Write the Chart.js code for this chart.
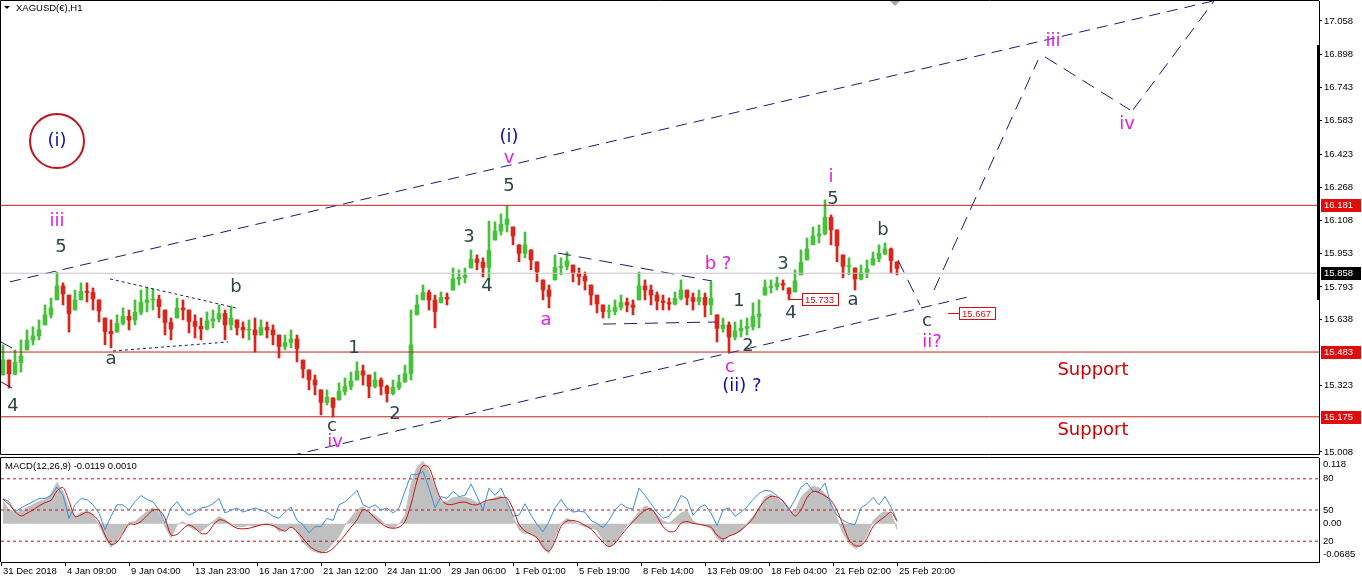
<!DOCTYPE html>
<html><head><meta charset="utf-8">
<script src="https://cdn.jsdelivr.net/npm/chart.js@4.4.1/dist/chart.umd.min.js"></script>
<style>
html,body{margin:0;padding:0;background:#fff;overflow:hidden}
#wrap{position:relative;width:1362px;height:582px;background:#fff}
#c1{position:absolute;left:0;top:0}
#c2{position:absolute;left:0;top:456px}
</style></head><body>
<div id="wrap"><canvas id="c1" width="1362" height="456"></canvas><canvas id="c2" width="1362" height="126"></canvas></div>
<script>
// ---------------- DATA ----------------
const symbolTitle = 'XAGUSD(€),H1';
const macdTitle = 'MACD(12,26,9) -0.0119 0.0010';
const timeLabels = ['31 Dec 2018','4 Jan 09:00','9 Jan 04:00','13 Jan 23:00','16 Jan 17:00','21 Jan 12:00','24 Jan 11:00','29 Jan 06:00','1 Feb 01:00','5 Feb 19:00','8 Feb 14:00','13 Feb 09:00','18 Feb 04:00','21 Feb 02:00','25 Feb 20:00'];
const BARS_PER_LABEL = 64;
const priceTicks = [17.058,16.898,16.743,16.583,16.423,16.268,16.108,15.953,15.793,15.638,15.323,15.008];
const redLevels = [16.181, 15.483, 15.175];
const lastPrice = 15.858;

// sampled H1 price ranges (one sample every 6 bars, starting at bar 3)
const FIRST_BAR = 3, BAR_STEP = 6;
const priceHigh = [
15.517,15.445,15.493,15.541,15.588,15.603,15.636,15.707,15.740,15.864,
15.812,15.754,15.778,15.812,15.812,15.788,15.731,15.645,15.636,15.660,
15.693,15.683,15.731,15.778,15.788,15.783,15.754,15.683,15.645,15.740,
15.731,15.683,15.660,15.645,15.674,15.683,15.707,15.683,15.702,15.636,
15.626,15.636,15.645,15.636,15.626,15.612,15.564,15.564,15.588,15.564,
15.445,15.398,15.374,15.303,15.303,15.265,15.336,15.360,15.388,15.436,
15.421,15.374,15.388,15.360,15.326,15.350,15.374,15.421,15.683,15.754,
15.802,15.778,15.754,15.769,15.764,15.883,15.874,15.883,15.969,15.945,
15.931,16.106,16.102,16.140,16.178,16.078,15.993,16.054,15.969,15.912,
15.826,15.802,15.945,15.931,15.959,15.897,15.883,15.864,15.802,15.754,
15.707,15.707,15.731,15.754,15.740,15.731,15.864,15.826,15.802,15.769,
15.754,15.740,15.769,15.826,15.778,15.764,15.778,15.764,15.817,15.660,
15.645,15.626,15.626,15.636,15.645,15.717,15.731,15.826,15.826,15.840,
15.826,15.788,15.874,15.969,16.026,16.078,16.088,16.207,16.135,16.064,
15.945,15.931,15.883,15.897,15.921,15.959,15.993,16.002,15.978,15.912];
const priceLow = [
15.374,15.312,15.374,15.388,15.493,15.517,15.541,15.612,15.645,15.731,
15.707,15.578,15.683,15.731,15.721,15.683,15.626,15.517,15.503,15.578,
15.612,15.588,15.612,15.660,15.674,15.683,15.645,15.564,15.541,15.645,
15.636,15.574,15.550,15.541,15.588,15.598,15.626,15.541,15.588,15.564,
15.550,15.541,15.483,15.564,15.550,15.517,15.455,15.493,15.503,15.436,
15.360,15.303,15.279,15.184,15.231,15.174,15.255,15.279,15.303,15.350,
15.326,15.265,15.312,15.279,15.245,15.279,15.303,15.340,15.350,15.660,
15.731,15.683,15.598,15.717,15.707,15.778,15.802,15.812,15.883,15.874,
15.840,15.826,16.016,16.040,16.054,15.993,15.912,15.931,15.874,15.817,
15.731,15.693,15.826,15.850,15.874,15.817,15.802,15.778,15.707,15.669,
15.645,15.645,15.660,15.683,15.674,15.660,15.731,15.731,15.707,15.683,
15.683,15.683,15.707,15.731,15.707,15.683,15.707,15.650,15.660,15.531,
15.578,15.483,15.541,15.555,15.564,15.588,15.598,15.754,15.764,15.778,
15.778,15.731,15.769,15.850,15.921,15.993,16.002,16.040,15.993,15.912,
15.836,15.850,15.778,15.826,15.836,15.897,15.912,15.945,15.859,15.850];

const macdMain = [
0.040,0.025,0.020,0.022,0.029,0.034,0.040,0.043,0.053,0.074,
0.058,0.029,0.013,0.020,0.022,0.015,-0.002,-0.025,-0.042,-0.029,
-0.014,0.002,0.004,0.013,0.022,0.029,0.020,-0.005,-0.025,-0.002,
0.004,-0.005,-0.011,-0.014,-0.005,0.004,0.013,0.007,0.000,-0.005,
-0.005,-0.002,-0.005,-0.002,0.000,-0.002,-0.014,-0.011,-0.005,-0.014,
-0.033,-0.044,-0.050,-0.053,-0.047,-0.035,-0.023,-0.002,0.011,0.025,
0.031,0.020,0.015,0.007,-0.005,-0.008,0.000,0.015,0.071,0.101,
0.112,0.094,0.065,0.038,0.040,0.047,0.048,0.047,0.044,0.038,
0.036,0.041,0.047,0.050,0.041,0.013,-0.011,-0.017,-0.017,-0.026,
-0.044,-0.053,-0.023,0.001,0.010,0.004,-0.001,-0.005,-0.008,-0.011,
-0.029,-0.041,-0.035,-0.017,-0.003,0.007,0.022,0.032,0.028,0.016,
0.005,0.001,0.010,0.019,0.023,0.005,-0.001,-0.003,-0.009,-0.026,
-0.033,-0.021,-0.018,-0.013,0.001,0.013,0.028,0.048,0.053,0.046,
0.036,0.021,0.023,0.047,0.059,0.068,0.064,0.054,0.038,0.010,
-0.017,-0.035,-0.044,-0.039,-0.020,0.005,0.016,0.022,0.019,-0.010];
const macdSignal = [
0.044,0.035,0.022,0.014,0.019,0.025,0.032,0.038,0.042,0.059,
0.065,0.041,0.013,0.016,0.021,0.016,0.004,-0.020,-0.037,-0.033,
-0.017,-0.001,-0.001,0.004,0.015,0.024,0.025,0.010,-0.020,-0.019,
-0.009,-0.002,-0.008,-0.017,-0.017,-0.003,0.007,0.005,-0.002,-0.008,
-0.009,-0.008,-0.005,-0.002,-0.001,-0.003,-0.009,-0.013,-0.006,-0.014,
-0.026,-0.039,-0.047,-0.051,-0.051,-0.044,-0.033,-0.020,-0.006,0.007,
0.025,0.021,0.010,0.001,-0.006,-0.008,-0.006,0.004,0.035,0.077,
0.104,0.101,0.071,0.044,0.035,0.035,0.038,0.039,0.035,0.034,
0.039,0.043,0.044,0.047,0.046,0.027,-0.001,-0.013,-0.019,-0.025,
-0.041,-0.049,-0.031,-0.005,0.005,0.006,0.003,-0.003,-0.009,-0.021,
-0.033,-0.041,-0.035,-0.021,-0.008,0.004,0.015,0.024,0.027,0.013,
-0.005,-0.014,-0.013,0.001,0.004,0.001,-0.001,-0.003,-0.006,-0.020,
-0.027,-0.022,-0.018,-0.011,-0.002,0.010,0.028,0.042,0.049,0.048,
0.041,0.027,0.014,0.025,0.047,0.058,0.056,0.050,0.042,0.024,
-0.002,-0.029,-0.039,-0.039,-0.026,-0.005,0.005,0.013,0.021,0.004];
const oscLine = [
61,58,48,52,55,58,61,61,64,72,
64,42,55,61,60,55,47,31,44,55,
55,50,58,64,60,58,50,37,52,58,
50,45,48,52,53,56,61,47,50,52,
48,50,52,50,48,44,42,48,53,40,
36,28,34,34,42,40,55,58,63,69,
55,52,55,50,52,47,52,68,84,84,
87,71,52,63,61,68,63,64,75,63,
50,71,64,71,58,44,45,56,45,36,
29,39,52,60,52,48,49,48,40,37,
33,40,50,56,52,51,71,64,56,48,
42,44,52,64,61,45,52,55,47,35,
50,52,44,48,53,60,66,69,68,64,
58,50,60,72,76,68,68,76,55,45,
40,37,36,52,56,62,55,63,53,40];
const oscLevels = [80, 50, 20];

// Elliott-wave drawing objects (bar, price)
const upperChannel = [[10,15.817],[1213,17.153]];
const lowerChannel = [[290,14.989],[968,15.745]];
const edgeLineA = [[1,15.531],[12,15.502]];
const edgeLineB = [[1,15.341],[12,15.312]];
const triUpper = [[110,15.831],[236,15.693]];
const triLower = [[113,15.488],[228,15.531]];
const flatUpper = [[558,15.954],[712,15.821]];
const flatLower = [[603,15.616],[715,15.626]];
const projection = [
  [[898,15.921],[920,15.707]],
  [[934,15.778],[1038,16.872]],
  [[1045,16.887],[1130,16.635]],
  [[1133,16.635],[1214,17.153]]];
const waveLabels = [
  ['(i)',57,16.487,'blue'],['iii',57,16.107,'mag'],['5',61,15.983,'dark'],
  ['b',236,15.793,'dark'],['a',111,15.450,'dark'],['4',13,15.226,'dark'],
  ['1',354,15.502,'dark'],['2',395,15.188,'dark'],['c',332,15.131,'dark'],['iv',335,15.055,'mag'],
  ['(i)',509,16.506,'blue'],['v',509,16.406,'mag'],['5',509,16.273,'dark'],
  ['3',469,16.030,'dark'],['4',487,15.797,'dark'],['a',546,15.636,'mag'],
  ['b ?',718,15.898,'mag'],['1',739,15.726,'dark'],['3',783,15.898,'dark'],['4',791,15.669,'dark'],
  ['2',748,15.512,'dark'],['c',730,15.412,'mag'],['(ii) ?',742,15.322,'blue'],
  ['i',831,16.316,'mag'],['5',833,16.211,'dark'],['b',883,16.064,'dark'],['a',853,15.731,'dark'],
  ['c',927,15.631,'dark'],['ii?',932,15.531,'mag'],['iii',1053,16.963,'mag'],['iv',1127,16.568,'mag'],
  ['Support',1093,15.398,'red'],['Support',1093,15.112,'red']];
const priceTags = [[790,802,15.733],[948,959,15.667]];
const circleMark = [57,16.487];

// ---------------- STYLE ----------------
const FONT = 'Liberation Sans';
const GREEN = '#45c13a', RED = '#d8261c', NAVY = '#1b1b72';
const LABEL_COLORS = {blue:'#1010a8', mag:'#e21fe2', dark:'#2f4646', red:'#cc0000'};
Chart.defaults.font.family = FONT;
Chart.defaults.font.size = 9.5;
Chart.defaults.color = '#000';

const sampleBars = priceHigh.map((_, i) => FIRST_BAR + i * BAR_STEP);
const X_MIN = 1, X_MAX = 1319;
const PRICE_MIN = 14.998, PRICE_MAX = 17.153;
const MACD_MIN = -0.0685, MACD_MAX = 0.118;

function seg(points, color, dash, width, yAxisID) {
  return {type:'line', data: points.map(p => ({x:p[0], y:p[1]})), borderColor: color,
    borderDash: dash, borderWidth: width || 1, pointRadius: 0, fill: false, tension: 0,
    order: 0, yAxisID: yAxisID || 'y'};
}
// candle body runs from the previous sample's mid-range to this sample's mid-range
const mids = priceHigh.map((h, i) => (h + priceLow[i]) / 2);
const bodies = sampleBars.map((b, i) => {
  const o = i === 0 ? priceLow[0] : mids[i-1];
  const c = mids[i];
  const lo = Math.max(Math.min(o, c), priceLow[i]), hi = Math.min(Math.max(o, c), priceHigh[i]);
  return {x: b, y: [lo, Math.max(hi, lo + 0.004)]};
});
const candleColors = mids.map((m, i) => (i === 0 || m >= mids[i-1]) ? GREEN : RED);

const mainDatasets = [
  {type:'bar', data: sampleBars.map((b, i) => ({x: b, y: [priceLow[i], priceHigh[i]]})),
   backgroundColor: candleColors, borderWidth: 0, barThickness: 2, grouped: false, order: 11},
  {type:'bar', data: bodies, backgroundColor: candleColors, borderWidth: 0, barThickness: 4, grouped: false, order: 10},
  ...redLevels.map(v => seg([[X_MIN, v],[X_MAX, v]], '#c81e1e', [], 1)),
  seg([[X_MIN, lastPrice],[X_MAX, lastPrice]], '#c4c4c4', [], 1),
  seg(upperChannel, NAVY, [11,7], 1),
  seg(lowerChannel, NAVY, [11,7], 1),
  seg(edgeLineA, NAVY, [], 1), seg(edgeLineB, NAVY, [], 1),
  seg(triUpper, NAVY, [3,3], 1), seg(triLower, NAVY, [3,3], 1),
  seg(flatUpper, NAVY, [13,8], 1), seg(flatLower, NAVY, [13,8], 1),
  ...projection.map(p => seg(p, NAVY, [14,8], 1))
];

const mainPlugin = {
  id: 'mainDecor',
  afterDraw(chart) {
    const {ctx, chartArea: a, scales: {x, y}} = chart;
    const X = b => x.getPixelForValue(b), Y = p => y.getPixelForValue(p);
    ctx.save();
    ctx.strokeStyle = '#000'; ctx.lineWidth = 1;
    ctx.beginPath();
    ctx.moveTo(a.right, a.top - 0.5); ctx.lineTo(a.left - 0.5, a.top - 0.5);
    ctx.lineTo(a.left - 0.5, a.bottom + 0.5); ctx.lineTo(a.right, a.bottom + 0.5);
    ctx.stroke();
    ctx.fillStyle = '#000';
    ctx.fillRect(a.right - 2, 45, 3, 255);
    ctx.fillStyle = '#a8a8a8';
    ctx.beginPath(); ctx.moveTo(890, a.top); ctx.lineTo(900, a.top); ctx.lineTo(895, a.top + 5); ctx.closePath(); ctx.fill();
    ctx.fillStyle = '#000';
    ctx.beginPath(); ctx.moveTo(4, 6); ctx.lineTo(10, 6); ctx.lineTo(7, 9); ctx.closePath(); ctx.fill();
    ctx.font = '9.5px "' + FONT + '"'; ctx.textBaseline = 'middle'; ctx.textAlign = 'left';
    ctx.fillText(symbolTitle, 16, 8);
    ctx.strokeStyle = '#c0141c'; ctx.lineWidth = 2;
    ctx.beginPath(); ctx.arc(X(circleMark[0]), Y(circleMark[1]), 27, 0, Math.PI * 2); ctx.stroke();
    ctx.textAlign = 'center'; ctx.textBaseline = 'middle';
    waveLabels.forEach(([t, b, p, c]) => {
      ctx.font = '18px "DejaVu Sans"';
      ctx.fillStyle = LABEL_COLORS[c];
      ctx.fillText(t, X(b), Y(p));
    });
    ctx.font = '9.5px "' + FONT + '"';
    priceTags.forEach(([b0, b1, p]) => {
      const py = Math.round(Y(p)) + 0.5, x1 = X(b1);
      ctx.strokeStyle = '#d01010'; ctx.lineWidth = 1;
      ctx.beginPath(); ctx.moveTo(X(b0), py); ctx.lineTo(x1, py); ctx.stroke();
      ctx.fillStyle = '#fff'; ctx.fillRect(x1, py - 6.5, 36, 13);
      ctx.strokeRect(x1 + 0.5, py - 6, 36, 12);
      ctx.fillStyle = '#d01010'; ctx.textAlign = 'left';
      ctx.fillText(p.toFixed(3), x1 + 3, py + 0.5);
    });
    const badge = (v, bg) => {
      const py = Math.round(Y(v));
      ctx.fillStyle = bg; ctx.fillRect(a.right + 2, py - 6, 40, 13);
      ctx.fillStyle = '#fff'; ctx.textAlign = 'left';
      ctx.fillText(v.toFixed(3), a.right + 5, py + 0.5);
    };
    redLevels.forEach(v => badge(v, '#e00d0d'));
    badge(lastPrice, '#000');
    ctx.restore();
  }
};

new Chart(document.getElementById('c1'), {
  type: 'bar',
  data: {datasets: mainDatasets},
  options: {
    responsive: false, animation: false, devicePixelRatio: 1,
    layout: {padding: {left: 1, top: 1, right: 0, bottom: 2}},
    plugins: {legend: {display: false}, tooltip: {enabled: false}},
    scales: {
      x: {type: 'linear', min: X_MIN, max: X_MAX, offset: false, display: false, grid: {offset: false}},
      y: {type: 'linear', position: 'right', min: PRICE_MIN, max: PRICE_MAX,
        afterBuildTicks: s => { s.ticks = priceTicks.map(v => ({value: v})); },
        afterFit: s => { s.width = 43; s.paddingTop = 0; s.paddingBottom = 0; },
        ticks: {callback: v => Number(v).toFixed(3), autoSkip: false, padding: 2, color: '#000', font: {size: 9.5}},
        grid: {drawOnChartArea: false, drawTicks: true, tickLength: 3, color: '#000'},
        border: {display: true, color: '#000'}}
    }
  },
  plugins: [mainPlugin]
});

// ---------------- MACD PANEL ----------------
const macdPlugin = {
  id: 'macdDecor',
  afterDraw(chart) {
    const {ctx, chartArea: a, scales: {m, o}} = chart;
    ctx.save();
    ctx.strokeStyle = '#000'; ctx.lineWidth = 1;
    ctx.beginPath();
    ctx.moveTo(a.right, a.top - 0.5); ctx.lineTo(a.left - 0.5, a.top - 0.5); ctx.lineTo(a.left - 0.5, a.bottom);
    ctx.stroke();
    ctx.fillStyle = '#000';
    ctx.font = '9.5px "' + FONT + '"'; ctx.textBaseline = 'middle'; ctx.textAlign = 'left';
    ctx.fillText(macdTitle, 5, a.top + 8);
    const lx = a.right + 4;
    ctx.fillText(MACD_MAX.toFixed(3), lx, m.getPixelForValue(MACD_MAX) + 6);
    oscLevels.forEach(v => ctx.fillText(String(v), lx, o.getPixelForValue(v)));
    ctx.fillText('0.00', lx, m.getPixelForValue(0));
    ctx.fillText(String(MACD_MIN), lx, m.getPixelForValue(MACD_MIN) - 8);
    ctx.restore();
  }
};

new Chart(document.getElementById('c2'), {
  type: 'bar',
  data: {datasets: [
    {type: 'line', data: sampleBars.map((b, i) => ({x: b, y: macdMain[i]})), borderColor: '#c0c0c0',
     backgroundColor: '#c0c0c0', fill: 'origin', borderWidth: 1, pointRadius: 0, tension: 0, yAxisID: 'm', order: 10},
    ...oscLevels.map(v => ({...seg([[X_MIN, v],[X_MAX, v]], '#c0141c', [3,3], 1, 'o'), order: 5})),
    {type: 'line', data: sampleBars.map((b, i) => ({x: b, y: oscLine[i]})), borderColor: '#3c8fd8',
     borderWidth: 1, pointRadius: 0, tension: 0, yAxisID: 'o', order: 2},
    {type: 'line', data: sampleBars.map((b, i) => ({x: b, y: macdSignal[i]})), borderColor: '#c81414',
     borderWidth: 1, pointRadius: 0, tension: 0.3, yAxisID: 'm', order: 1}
  ]},
  options: {
    responsive: false, animation: false, devicePixelRatio: 1,
    layout: {padding: {left: 1, top: 2, right: 0, bottom: 0}},
    plugins: {legend: {display: false}, tooltip: {enabled: false}, filler: {propagate: false}},
    scales: {
      x: {type: 'linear', min: X_MIN, max: X_MAX, offset: false, position: 'bottom',
        afterBuildTicks: s => { s.ticks = timeLabels.map((_, i) => ({value: 1 + i * BARS_PER_LABEL})); },
        afterFit: s => { s.height = 20; s.paddingLeft = 0; s.paddingRight = 0; },
        ticks: {callback: (v, i) => timeLabels[i], autoSkip: false, maxRotation: 0, minRotation: 0,
          align: 'start', labelOffset: 2, padding: 0, color: '#000', font: {size: 9.5}},
        grid: {offset: false, drawOnChartArea: false, drawTicks: true, tickLength: 4, color: '#000'},
        border: {display: true, color: '#000'}},
      m: {type: 'linear', position: 'right', min: MACD_MIN, max: MACD_MAX,
        afterFit: s => { s.width = 43; s.paddingTop = 0; s.paddingBottom = 0; },
        ticks: {display: false}, grid: {display: false}, border: {display: true, color: '#000'}},
      o: {type: 'linear', position: 'right', min: 0, max: 100, display: false}
    }
  },
  plugins: [macdPlugin]
});
</script>
</body></html>
